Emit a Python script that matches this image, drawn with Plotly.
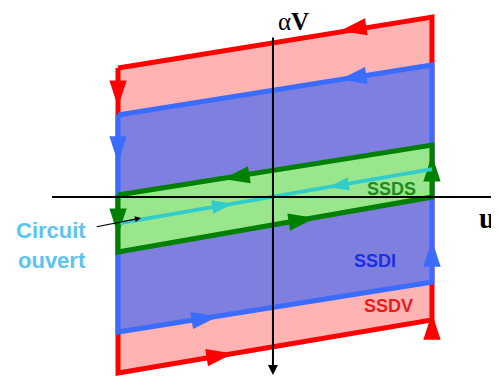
import plotly.graph_objects as go

# Parallelogram corners (u, alphaV) in diagram units: TL, TR, BR, BL
poly_u = [-1.0, 1.0, 1.0, -1.0]
red_v = [0.822, 1.146, -0.783, -1.121]
blue_v = [0.522, 0.841, -0.541, -0.860]
green_v = [0.013, 0.331, 0.000, -0.350]
cyan_u = [-0.987, 1.0]
cyan_v = [-0.166, 0.178]

# Direction arrows along the edges: tip position (u, v) and direction
red_arrows_u = [0.414, -1.0, -0.268, 1.0]
red_arrows_v = [1.058, 0.573, -0.996, -0.739]
blue_arrows_u = [0.414, -1.0, -0.363, 1.0]
blue_arrows_v = [0.748, 0.217, -0.760, -0.274]
green_arrows_u = [-0.331, -1.0, 0.255, 1.0]
green_arrows_v = [0.115, -0.242, -0.133, 0.268]
cyan_arrows_u = [-0.268, 0.338]
cyan_arrows_v = [-0.042, 0.063]
arrow_dirs = ["left", "down", "right", "up"]
cyan_dirs = ["right", "left"]

ANG = {"left": 261, "right": 81, "up": 0, "down": 180}

fig = go.Figure()

def poly(v, fill, line):
    fig.add_trace(go.Scatter(x=poly_u + [poly_u[0]], y=v + [v[0]], mode="lines",
                             fill="toself", fillcolor=fill,
                             line=dict(color=line, width=5), hoverinfo="skip"))

def arrows(us, vs, dirs, color, size=28):
    fig.add_trace(go.Scatter(x=us, y=vs, mode="markers",
                             marker=dict(symbol="arrow", size=size, color=color,
                                         angle=[ANG[d] for d in dirs],
                                         line=dict(width=0)),
                             hoverinfo="skip"))

poly(red_v, "#ffb3b3", "#ff0000")
arrows(red_arrows_u, red_arrows_v, arrow_dirs, "#ff0000")
poly(blue_v, "#7f7fdf", "#3a6cff")
arrows(blue_arrows_u, blue_arrows_v, arrow_dirs, "#3a6cff")
poly(green_v, "#99e68c", "#008000")
arrows(green_arrows_u, green_arrows_v, arrow_dirs, "#008000")
fig.add_trace(go.Scatter(x=cyan_u, y=cyan_v, mode="lines",
                         line=dict(color="#33cccc", width=4), hoverinfo="skip"))
arrows(cyan_arrows_u, cyan_arrows_v, cyan_dirs, "#33cccc", size=22)

# horizontal axis
fig.add_trace(go.Scatter(x=[-1.42, 1.48], y=[0, 0], mode="lines",
                         line=dict(color="black", width=2), hoverinfo="skip"))

annotations = [
    # vertical axis with arrow
    dict(x=-0.013, y=-1.134, ax=-0.013, ay=1.025, xref="x", yref="y", axref="x", ayref="y",
         showarrow=True, arrowhead=2, arrowwidth=2, arrowsize=1, arrowcolor="black", text=""),
    # circuit ouvert pointer
    dict(x=-0.854, y=-0.134, ax=-1.146, ay=-0.191, xref="x", yref="y", axref="x", ayref="y",
         showarrow=True, arrowhead=2, arrowwidth=1.2, arrowsize=1, arrowcolor="black", text=""),
    dict(x=0.121, y=1.115, text="α<b>V</b>", showarrow=False,
         font=dict(family="Liberation Serif", size=25, color="black")),
    dict(x=1.35, y=-0.134, text="<b>u</b>", showarrow=False,
         font=dict(family="Liberation Serif", size=29, color="black")),
    dict(x=0.739, y=0.051, text="<b>SSDS</b>", showarrow=False,
         font=dict(family="Liberation Sans", size=18, color="#1f8a1f")),
    dict(x=0.637, y=-0.408, text="<b>SSDI</b>", showarrow=False,
         font=dict(family="Liberation Sans", size=18, color="#1c2ee6")),
    dict(x=0.726, y=-0.694, text="<b>SSDV</b>", showarrow=False,
         font=dict(family="Liberation Sans", size=18, color="#e81c1c")),
    dict(x=-1.427, y=-0.210, text="<b>Circuit</b>", showarrow=False,
         font=dict(family="Liberation Sans", size=22, color="#5cc4f0")),
    dict(x=-1.420, y=-0.401, text="<b>ouvert</b>", showarrow=False,
         font=dict(family="Liberation Sans", size=22, color="#5cc4f0")),
]

# ranges compensate for the 8px page margin around the figure
fig.update_layout(
    width=499, height=377, margin=dict(l=0, r=0, t=0, b=0),
    paper_bgcolor="white", plot_bgcolor="white", showlegend=False,
    xaxis=dict(range=[-1.701, 1.478], visible=False, fixedrange=True),
    yaxis=dict(range=[-1.197, 1.204], visible=False, fixedrange=True),
    annotations=annotations,
)

fig.write_html("out.html")
